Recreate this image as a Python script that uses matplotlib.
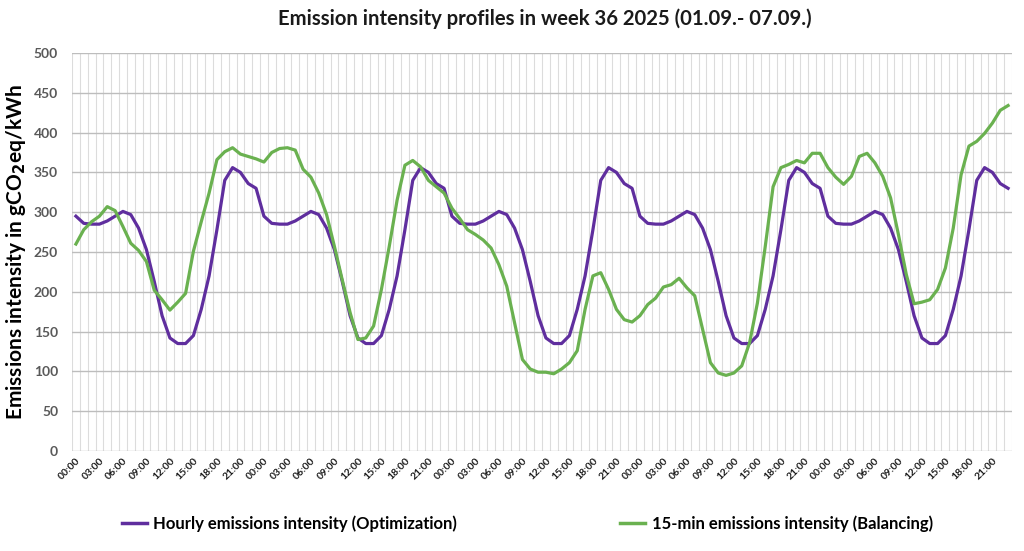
import numpy as np
import matplotlib
matplotlib.use("Agg")
import matplotlib.pyplot as plt
from matplotlib.lines import Line2D

# hourly values over 5 days (120 h)
hourly_optimization = [
    295, 286, 285, 285, 289, 295, 301, 297, 280, 253, 213, 170,
    142, 135, 135, 145, 178, 220, 278, 340, 356, 350, 336, 330,
    295, 286, 285, 285, 289, 295, 301, 297, 280, 253, 213, 170,
    142, 135, 135, 145, 178, 220, 278, 340, 356, 350, 336, 330,
    295, 286, 285, 285, 289, 295, 301, 297, 280, 253, 213, 170,
    142, 135, 135, 145, 178, 220, 278, 340, 356, 350, 336, 330,
    295, 286, 285, 285, 289, 295, 301, 297, 280, 253, 213, 170,
    142, 135, 135, 145, 178, 220, 278, 340, 356, 350, 336, 330,
    295, 286, 285, 285, 289, 295, 301, 297, 280, 253, 213, 170,
    142, 135, 135, 145, 178, 220, 278, 340, 356, 350, 336, 330,
]
balancing_15min = [
    260, 278, 288, 295, 307, 302, 282, 261, 252, 238, 202, 190,
    177, 187, 198, 251, 288, 324, 366, 376, 381, 373, 370, 367,
    363, 375, 380, 381, 378, 354, 344, 324, 297, 257, 215, 174,
    140, 142, 157, 203, 257, 315, 359, 365, 357, 340, 332, 324,
    305, 292, 278, 272, 265, 255, 234, 207, 161, 115, 103, 99,
    99, 97, 103, 111, 126, 178, 220, 224, 203, 178, 165, 162,
    170, 184, 192, 206, 209, 217, 205, 195, 153, 111, 98, 95,
    98, 107, 136, 186, 257, 332, 356, 360, 365, 362, 374, 374,
    356, 344, 335, 345, 370, 374, 362, 345, 318, 272, 222, 185,
    187, 190, 203, 230, 280, 347, 383, 389, 399, 412, 428, 434,
]
hour_labels = ["00:00", "03:00", "06:00", "09:00", "12:00", "15:00", "18:00", "21:00"]

purple = "#5f2e9e"
green = "#6ab150"

plt.rcParams["font.family"] = ["Lato", "DejaVu Sans"]

fig = plt.figure(figsize=(10.24, 5.51), dpi=100)
ax = fig.add_axes([72 / 1024, 1 - 451 / 551, 940 / 1024, 398 / 551])

x = np.arange(len(hourly_optimization))
ax.plot(x, hourly_optimization, color=purple, lw=2.3, solid_joinstyle="round")
ax.plot(x, balancing_15min, color=green, lw=2.3, solid_joinstyle="round")

ax.set_xlim(-0.5, len(x) - 0.5)
ax.set_ylim(0, 500)
ax.set_yticks(np.arange(0, 501, 50))
ax.set_xticks(np.arange(0, len(x), 3))
ax.set_xticklabels(hour_labels * (len(x) // 24), rotation=45, ha="right",
                   rotation_mode="anchor", fontsize=7.5, fontweight="bold", color="#1a1a1a")
ax.set_xticks(np.arange(-0.5, len(x), 1), minor=True)
ax.tick_params(axis="both", which="both", length=0)
ax.tick_params(axis="x", pad=4)
ax.tick_params(axis="y", pad=10, labelsize=10, labelcolor="#595959")
for lab in ax.get_yticklabels():
    lab.set_fontweight("bold")

ax.grid(axis="y", which="major", color="#bdbdbd", lw=1.0)
ax.grid(axis="x", which="minor", color="#dcdcdc", lw=0.8)
ax.set_axisbelow(True)
for s in ax.spines.values():
    s.set_visible(False)

ax.set_ylabel("Emissions intensity in gCO$_\\mathbf{2}$eq/kWh", fontsize=15,
              fontweight="bold", labelpad=4)
fig.suptitle("Emission intensity profiles in week 36 2025 (01.09.- 07.09.)",
             x=0.532, y=0.985, fontsize=14.6, fontweight="bold", color="#1a1a1a")

handles = [Line2D([], [], color=purple, lw=2.5),
           Line2D([], [], color=green, lw=2.5)]
fig.legend(handles, ["Hourly emissions intensity (Optimization)",
                     "15-min emissions intensity (Balancing)"],
           loc="center", bbox_to_anchor=(0.515, 0.05), ncol=2, frameon=False,
           prop={"weight": "bold", "size": 12}, columnspacing=9.8,
           handlelength=1.5, handletextpad=0.4)

fig.savefig("out.png", dpi=100)
